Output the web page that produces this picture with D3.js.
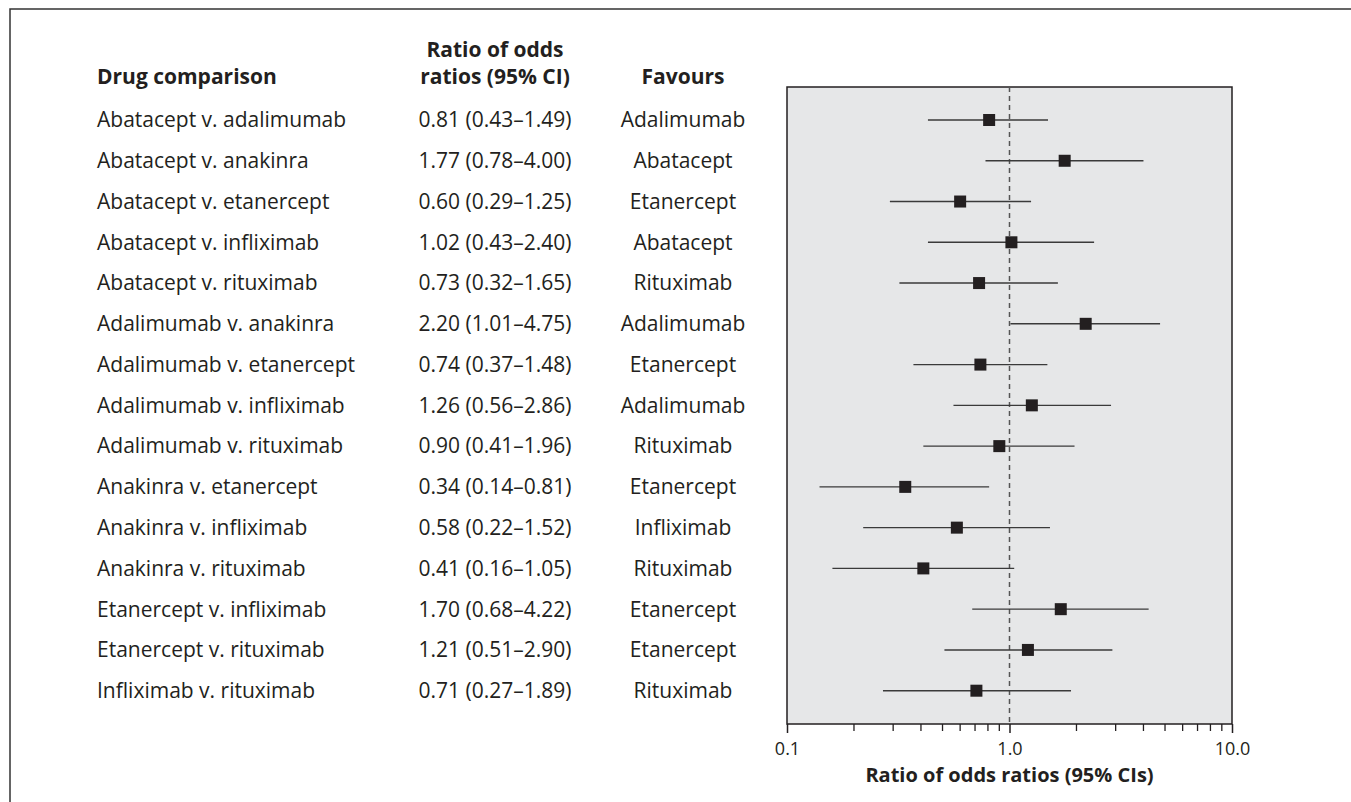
<!DOCTYPE html>
<html>
<head>
<meta charset="utf-8">
<script src="https://cdn.jsdelivr.net/npm/d3@7"></script>
<style>
  html, body { margin: 0; padding: 0; background: #fff; }
  svg { display: block; font-family: "Open Sans", "Noto Sans", sans-serif; }
</style>
</head>
<body>
<svg id="chart" width="1351" height="802"></svg>
<script>
const comparisons = [
  "Abatacept v. adalimumab",
  "Abatacept v. anakinra",
  "Abatacept v. etanercept",
  "Abatacept v. infliximab",
  "Abatacept v. rituximab",
  "Adalimumab v. anakinra",
  "Adalimumab v. etanercept",
  "Adalimumab v. infliximab",
  "Adalimumab v. rituximab",
  "Anakinra v. etanercept",
  "Anakinra v. infliximab",
  "Anakinra v. rituximab",
  "Etanercept v. infliximab",
  "Etanercept v. rituximab",
  "Infliximab v. rituximab"
];
const estimate = [0.81, 1.77, 0.60, 1.02, 0.73, 2.20, 0.74, 1.26, 0.90, 0.34, 0.58, 0.41, 1.70, 1.21, 0.71];
const lower    = [0.43, 0.78, 0.29, 0.43, 0.32, 1.01, 0.37, 0.56, 0.41, 0.14, 0.22, 0.16, 0.68, 0.51, 0.27];
const upper    = [1.49, 4.00, 1.25, 2.40, 1.65, 4.75, 1.48, 2.86, 1.96, 0.81, 1.52, 1.05, 4.22, 2.90, 1.89];
const favours  = ["Adalimumab", "Abatacept", "Etanercept", "Abatacept", "Rituximab", "Adalimumab",
                  "Etanercept", "Adalimumab", "Rituximab", "Etanercept", "Infliximab", "Rituximab",
                  "Etanercept", "Etanercept", "Rituximab"];
const majorTicks = [0.1, 1, 10];
const majorTickLabels = ["0.1", "1.0", "10.0"];
const minorTicks = [0.2, 0.3, 0.4, 0.5, 0.6, 0.7, 0.8, 0.9, 2, 3, 4, 5, 6, 7, 8, 9];
const headers = {
  drug: "Drug comparison",
  ratio1: "Ratio of odds",
  ratio2: "ratios (95% CI)",
  fav: "Favours",
  axis: "Ratio of odds ratios (95% CIs)"
};

const rows = comparisons.map((c, i) => ({
  name: c, est: estimate[i], lo: lower[i], hi: upper[i], fav: favours[i]
}));

const svg = d3.select("#chart");
const ink = "#231f20";

// outer frame (extends beyond view on right/bottom)
svg.append("rect")
  .attr("x", 10).attr("y", 9).attr("width", 1500).attr("height", 1000)
  .attr("fill", "none").attr("stroke", "#333").attr("stroke-width", 1.5);

const panel = { left: 787, right: 1232, top: 87, bottom: 724 };

const x = d3.scaleLog().domain([0.1, 10]).range([panel.left, panel.right]);
const y = d3.scalePoint().domain(comparisons).range([120, 690.7]);

// panel
svg.append("rect")
  .attr("x", panel.left).attr("y", panel.top)
  .attr("width", panel.right - panel.left).attr("height", panel.bottom - panel.top)
  .attr("fill", "#e6e7e8").attr("stroke", ink).attr("stroke-width", 1.5);

// reference line at 1
svg.append("line")
  .attr("x1", x(1)).attr("x2", x(1))
  .attr("y1", panel.top).attr("y2", panel.bottom)
  .attr("stroke", "#555").attr("stroke-width", 1.5).attr("stroke-dasharray", "5,4");

// CI lines
svg.append("g").selectAll("line").data(rows).join("line")
  .attr("x1", d => x(d.lo)).attr("x2", d => x(d.hi))
  .attr("y1", d => y(d.name)).attr("y2", d => y(d.name))
  .attr("stroke", "#3a3a3a").attr("stroke-width", 1.4);

// markers
const ms = 12;
svg.append("g").selectAll("rect").data(rows).join("rect")
  .attr("x", d => x(d.est) - ms / 2).attr("y", d => y(d.name) - ms / 2)
  .attr("width", ms).attr("height", ms)
  .attr("fill", ink);

// axis
const axisG = svg.append("g").attr("transform", `translate(0,${panel.bottom})`);
axisG.call(d3.axisBottom(x).tickValues(majorTicks).tickSize(9)
  .tickFormat((d, i) => majorTickLabels[i]))
  .call(g => g.select(".domain").remove());
axisG.selectAll(".tick line").attr("stroke", ink).attr("stroke-width", 1.5);
axisG.selectAll(".tick text")
  .attr("y", 31).attr("dy", 0)
  .attr("fill", ink).attr("font-size", 18)
  .attr("font-family", "'Open Sans', sans-serif");
axisG.selectAll(".minor").data(minorTicks).join("line")
  .attr("class", "minor")
  .attr("x1", d => x(d)).attr("x2", d => x(d))
  .attr("y1", 0).attr("y2", 7)
  .attr("stroke", ink).attr("stroke-width", 1.3);

svg.append("text")
  .attr("x", (panel.left + panel.right) / 2).attr("y", 782)
  .attr("text-anchor", "middle").attr("font-weight", "bold").attr("font-size", 20)
  .attr("fill", ink).text(headers.axis);

// column headers
const colDrug = 97, colRatio = 495, colFav = 683;
const hdr = svg.append("g").attr("font-weight", "bold").attr("font-size", 21).attr("fill", ink);
hdr.append("text").attr("x", colDrug).attr("y", 84).text(headers.drug);
hdr.append("text").attr("x", colRatio).attr("y", 57).attr("text-anchor", "middle").text(headers.ratio1);
hdr.append("text").attr("x", colRatio).attr("y", 84).attr("text-anchor", "middle").text(headers.ratio2);
hdr.append("text").attr("x", colFav).attr("y", 84).attr("text-anchor", "middle").text(headers.fav);

// row texts
const body = svg.append("g").attr("font-size", 21).attr("fill", ink);
body.selectAll(".name").data(rows).join("text")
  .attr("class", "name")
  .attr("x", colDrug).attr("y", d => y(d.name)).attr("dy", "0.35em")
  .text(d => d.name);
body.selectAll(".ratio").data(rows).join("text")
  .attr("class", "ratio")
  .attr("x", colRatio).attr("y", d => y(d.name)).attr("dy", "0.35em")
  .attr("text-anchor", "middle")
  .text(d => `${d.est.toFixed(2)} (${d.lo.toFixed(2)}\u2013${d.hi.toFixed(2)})`);
body.selectAll(".fav").data(rows).join("text")
  .attr("class", "fav")
  .attr("x", colFav).attr("y", d => y(d.name)).attr("dy", "0.35em")
  .attr("text-anchor", "middle")
  .text(d => d.fav);
</script>
</body>
</html>
